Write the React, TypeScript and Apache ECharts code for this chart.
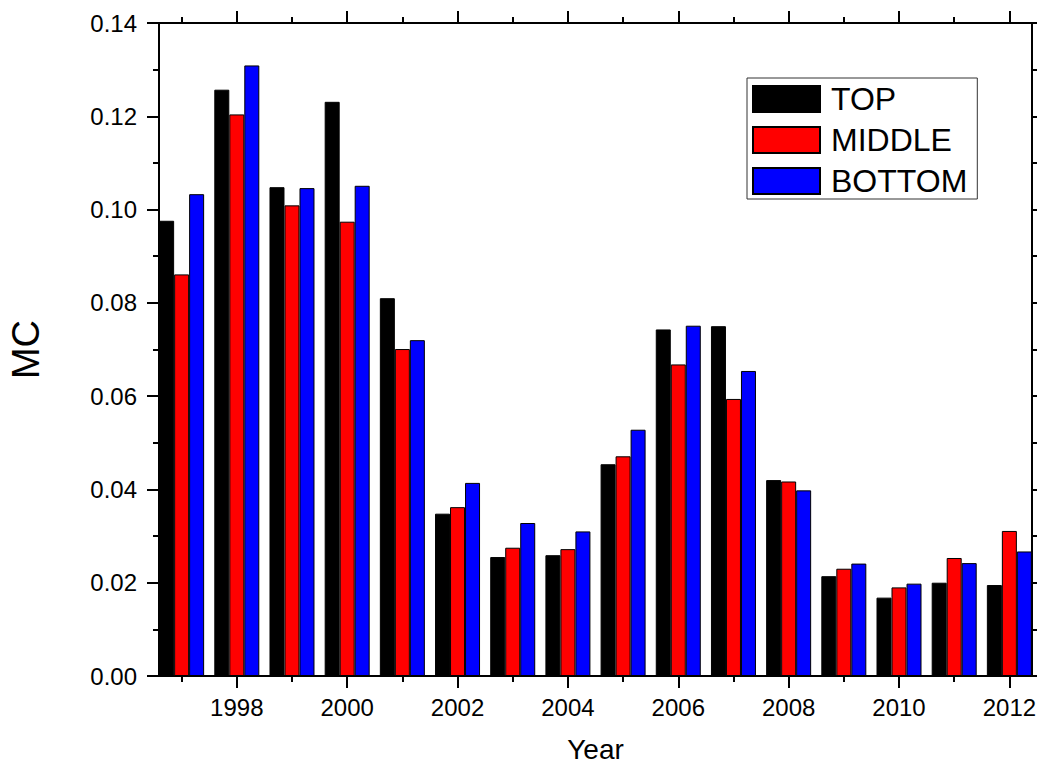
import React, { useEffect, useRef } from "react";
import * as echarts from "echarts";

const years = [1997, 1998, 1999, 2000, 2001, 2002, 2003, 2004, 2005, 2006, 2007, 2008, 2009, 2010, 2011, 2012];
const topValues = [0.0976, 0.1257, 0.1048, 0.1231, 0.081, 0.0348, 0.0255, 0.0259, 0.0454, 0.0743, 0.075, 0.042, 0.0214, 0.0168, 0.02, 0.0195];
const middleValues = [0.0861, 0.1204, 0.1009, 0.0974, 0.0701, 0.0362, 0.0275, 0.0272, 0.0471, 0.0668, 0.0594, 0.0417, 0.023, 0.019, 0.0253, 0.0311];
const bottomValues = [0.1033, 0.1309, 0.1046, 0.1051, 0.072, 0.0414, 0.0328, 0.031, 0.0528, 0.0751, 0.0654, 0.0398, 0.0241, 0.0198, 0.0242, 0.0267];
const majorYears = [1998, 2000, 2002, 2004, 2006, 2008, 2010, 2012];
const minorYears = [1997, 1999, 2001, 2003, 2005, 2007, 2009, 2011];
const seriesNames = ["TOP", "MIDDLE", "BOTTOM"];
const seriesColors = ["#000000", "#ff0000", "#0000ff"];

const FONT = "'Liberation Sans', Arial, Helvetica, sans-serif";

export default function App() {
  const ref = useRef<HTMLDivElement>(null);
  useEffect(() => {
    if (!ref.current) return;
    const chart = echarts.init(ref.current, undefined, { renderer: "svg" });
    const xMin = 1996.59;
    const xMax = 2012.41;
    const lineStyle = { color: "#000", width: 2 };
    const baseX = {
      type: "value" as const,
      min: xMin,
      max: xMax,
      splitLine: { show: false },
    };
    const allValues = [topValues, middleValues, bottomValues];
    const option: any = {
      animation: false,
      textStyle: { fontFamily: FONT },
      grid: { left: 159, right: 5, top: 23, bottom: 91, containLabel: false, outerBoundsMode: "none" },
      legend: {
        orient: "vertical",
        left: 747,
        top: 78,
        selectedMode: false,
        itemWidth: 67,
        itemHeight: 26,
        itemGap: 9,
        padding: [5, 10, 2, 5],
        borderColor: "#333",
        borderWidth: 1,
        icon: "rect",
        textStyle: { fontSize: 32, color: "#000", fontFamily: FONT, padding: [0, 0, 0, 6] },
        data: seriesNames,
      },
      xAxis: [
        {
          ...baseX,
          position: "bottom",
          name: "Year",
          nameLocation: "middle",
          nameGap: 59,
          nameTextStyle: { fontSize: 28, lineHeight: 28, color: "#000", fontFamily: FONT },
          axisLine: { show: true, onZero: false, lineStyle },
          axisTick: { show: true, inside: false, length: 12, lineStyle, customValues: majorYears },
          axisLabel: { show: true, fontSize: 24, color: "#000", margin: 19, fontFamily: FONT, customValues: majorYears, formatter: (v: number) => String(Math.round(v)) },
        },
        {
          ...baseX,
          position: "bottom",
          axisLine: { show: false, onZero: false },
          axisTick: { show: true, inside: false, length: 6, lineStyle, customValues: minorYears },
          axisLabel: { show: false, customValues: minorYears },
        },
        {
          ...baseX,
          position: "top",
          axisLine: { show: true, onZero: false, lineStyle },
          axisTick: { show: true, inside: false, length: 12, lineStyle, customValues: majorYears },
          axisLabel: { show: false, customValues: majorYears },
        },
        {
          ...baseX,
          position: "top",
          axisLine: { show: false, onZero: false },
          axisTick: { show: true, inside: false, length: 6, lineStyle, customValues: minorYears },
          axisLabel: { show: false, customValues: minorYears },
        },
      ],
      yAxis: [
        {
          type: "value",
          position: "left",
          min: 0,
          max: 0.14,
          interval: 0.02,
          name: "MC",
          nameLocation: "middle",
          nameRotate: 90,
          nameGap: 114,
          nameTextStyle: { fontSize: 38, color: "#000", fontFamily: FONT },
          splitLine: { show: false },
          axisLine: { show: true, onZero: false, lineStyle },
          axisTick: { show: true, inside: false, length: 12, lineStyle },
          minorTick: { show: true, splitNumber: 2, length: 6, lineStyle: { color: "#000", width: 2 } },
          axisLabel: { fontSize: 24, color: "#000", margin: 22, fontFamily: FONT, formatter: (v: number) => v.toFixed(2) },
        },
        {
          type: "value",
          position: "right",
          min: 0,
          max: 0.14,
          interval: 0.02,
          splitLine: { show: false },
          axisLine: { show: true, onZero: false, lineStyle },
          axisTick: { show: true, inside: false, length: 12, lineStyle },
          minorTick: { show: true, splitNumber: 2, length: 6, lineStyle: { color: "#000", width: 2 } },
          axisLabel: { show: false },
        },
      ],
      series: seriesNames.map((name, si) => ({
        name,
        type: "bar",
        xAxisIndex: 0,
        yAxisIndex: 0,
        barWidth: 15,
        barGap: "0%",
        clip: true,
        itemStyle: { color: seriesColors[si], borderColor: "#000", borderWidth: 1 },
        data: years.map((y, i) => [y, allValues[si][i]]),
      })),
    };
    chart.setOption(option);
    return () => chart.dispose();
  }, []);
  return <div ref={ref} style={{ position: "fixed", left: 0, top: 0, width: 1037, height: 767, background: "#fff" }} />;
}
